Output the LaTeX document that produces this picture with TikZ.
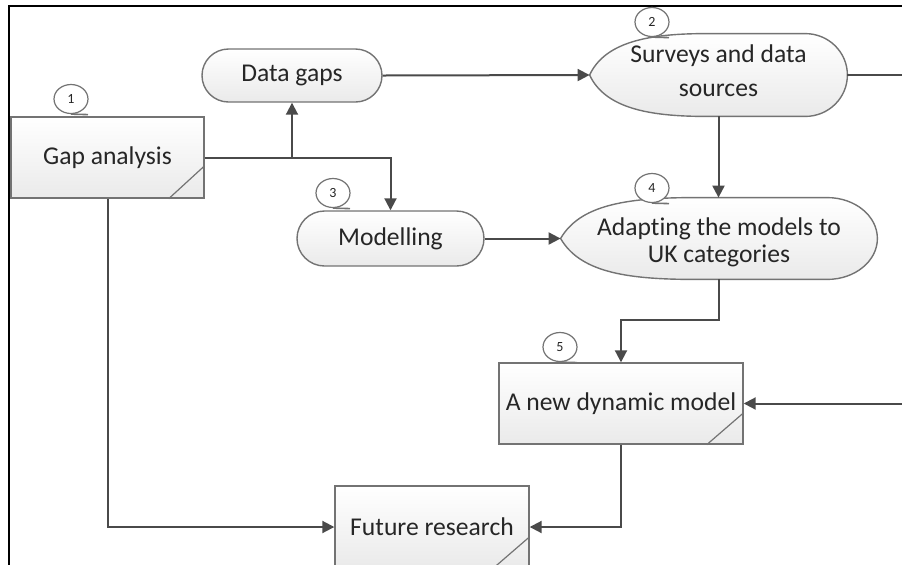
\documentclass[tikz,border=0pt]{standalone}
\usepackage{fontspec}
\setmainfont[Ligatures=NoCommon]{Carlito}
\usetikzlibrary{arrows.meta,calc,backgrounds,shapes.geometric}
\definecolor{lnc}{HTML}{4A4A4A}
\definecolor{bdc}{HTML}{737373}
\definecolor{fillb}{HTML}{EAEAEA}
\tikzset{
 conn/.style={draw=lnc, line width=1pt},
 arr/.style={conn, -{Triangle[length=6pt,width=6pt]}},
 shp/.style={draw=bdc, line width=0.7pt, top color=white, bottom color=fillb},
 mainfont/.style={font=\fontsize{12.8}{15}\selectfont, text=black!85},
 boxnode/.style={shp, mainfont, rectangle, inner sep=0pt, align=center},
 stadium/.style={boxnode, rounded corners=#1},
 dispnode/.style={mainfont, rectangle, inner sep=0pt, align=center},
 numc/.style={ellipse, draw=bdc, line width=0.6pt, fill=white, inner sep=0pt,
   minimum width=17pt, minimum height=14.5pt, font=\fontsize{7}{8}\selectfont, text=black!85},
 tail/.style={draw=bdc, line width=0.8pt},
 corner/.style={draw=bdc, line width=0.6pt}
}
% #1 node, #2 fraction where the flat top starts, #3 x radius of right end (pt)
\newcommand\dispoutline[3]{%
 \path[shp] let \p1=(#1.north west), \p2=(#1.south east), \p3=(#1.west) in
  (\p3) .. controls ({\x1+0.06*(\x2-\x1)},{\y3+0.8*(\y1-\y3)}) and ({\x1+(#2-0.22)*(\x2-\x1)},\y1) .. ({\x1+#2*(\x2-\x1)},\y1)
  -- ({\x2-#3},\y1)
  .. controls ({\x2-#3+0.552*#3},\y1) and (\x2,{\y3+0.552*(\y1-\y3)}) .. (\x2,\y3)
  .. controls (\x2,{\y3-0.552*(\y1-\y3)}) and ({\x2-#3+0.552*#3},\y2) .. ({\x2-#3},\y2)
  -- ({\x1+#2*(\x2-\x1)},\y2)
  .. controls ({\x1+(#2-0.22)*(\x2-\x1)},\y2) and ({\x1+0.06*(\x2-\x1)},{\y3-0.8*(\y1-\y3)}) .. cycle;
}
\begin{document}
\begin{tikzpicture}[x=0.5pt,y=-0.5pt]
\useasboundingbox (0,0) rectangle (902,564);
\clip (0,0) rectangle (902,564);

% frame
\draw[black, line width=1.1pt] (9,570) -- (9,5.7) -- (910,5.7);

% nodes
\node[boxnode, minimum width=96.5pt, minimum height=40.5pt] (gap) at (107.5,157.5) {Gap analysis};
\node[stadium=13.25pt, minimum width=90pt, minimum height=26.5pt] (dg) at (292,75.5) {Data gaps};
\node[stadium=13.75pt, minimum width=93.5pt, minimum height=27.5pt] (mod) at (390.5,238.5) {Modelling};
\node[dispnode, minimum width=128.5pt, minimum height=41pt, font=\fontsize{12.8}{17}\selectfont, text depth=4pt] (surv) at (718.5,75) {Surveys and data\\sources};
\node[dispnode, minimum width=158pt, minimum height=40.5pt, font=\fontsize{12.8}{13.5}\selectfont, text height=26.5pt] (adapt) at (719,238.5) {Adapting the models to\\UK categories};
\node[boxnode, minimum width=122pt, minimum height=40.5pt] (nm) at (621,403.5) {A new dynamic model};
\node[boxnode, minimum width=97pt, minimum height=41pt] (fr) at (432,527) {Future research};

\begin{scope}[on background layer]
 \dispoutline{surv}{0.45}{21pt}
 \dispoutline{adapt}{0.42}{25pt}
\end{scope}

% corner marks
\draw[corner] ($(gap.south east)+(-36,0)$) -- ($(gap.south east)+(0,-33)$);
\draw[corner] ($(nm.south east)+(-37,0)$) -- ($(nm.south east)+(0,-32)$);
\draw[corner] ($(fr.south east)+(-37,0)$) -- ($(fr.south east)+(0,-32)$);

% numbered callouts
\node[numc] (n1) at (71,99) {1};
\node[numc] (n2) at (652,22) {2};
\node[numc] (n3) at (333,193) {3};
\node[numc] (n4) at (652,188) {4};
\node[numc] (n5) at (560,347) {5};
\foreach \n in {n1,n2,n3,n4,n5}{\draw[tail] (\n.south) -- ++(17,0.5);}

% edge coordinate
\coordinate (redge) at (915,0);

% connectors
\draw[arr] (gap.east) -| (dg.south);
\draw[arr] (gap.east) -| (mod.north);
\draw[arr] (dg.east) -- (surv.west);
\draw[conn] (surv.east) -- (surv.east -| redge);
\draw[arr] (surv.south) -- (surv.south |- adapt.north);
\draw[arr] (mod.east) -- (adapt.west);
\draw[arr] (adapt.south) -- ($(adapt.south)+(0,41)$) -| (nm.north);
\draw[arr] (nm.east -| redge) -- (nm.east);
\draw[arr] (nm.south) |- (fr.east);
\draw[arr] (gap.south) |- (fr.west);
\end{tikzpicture}
\end{document}
